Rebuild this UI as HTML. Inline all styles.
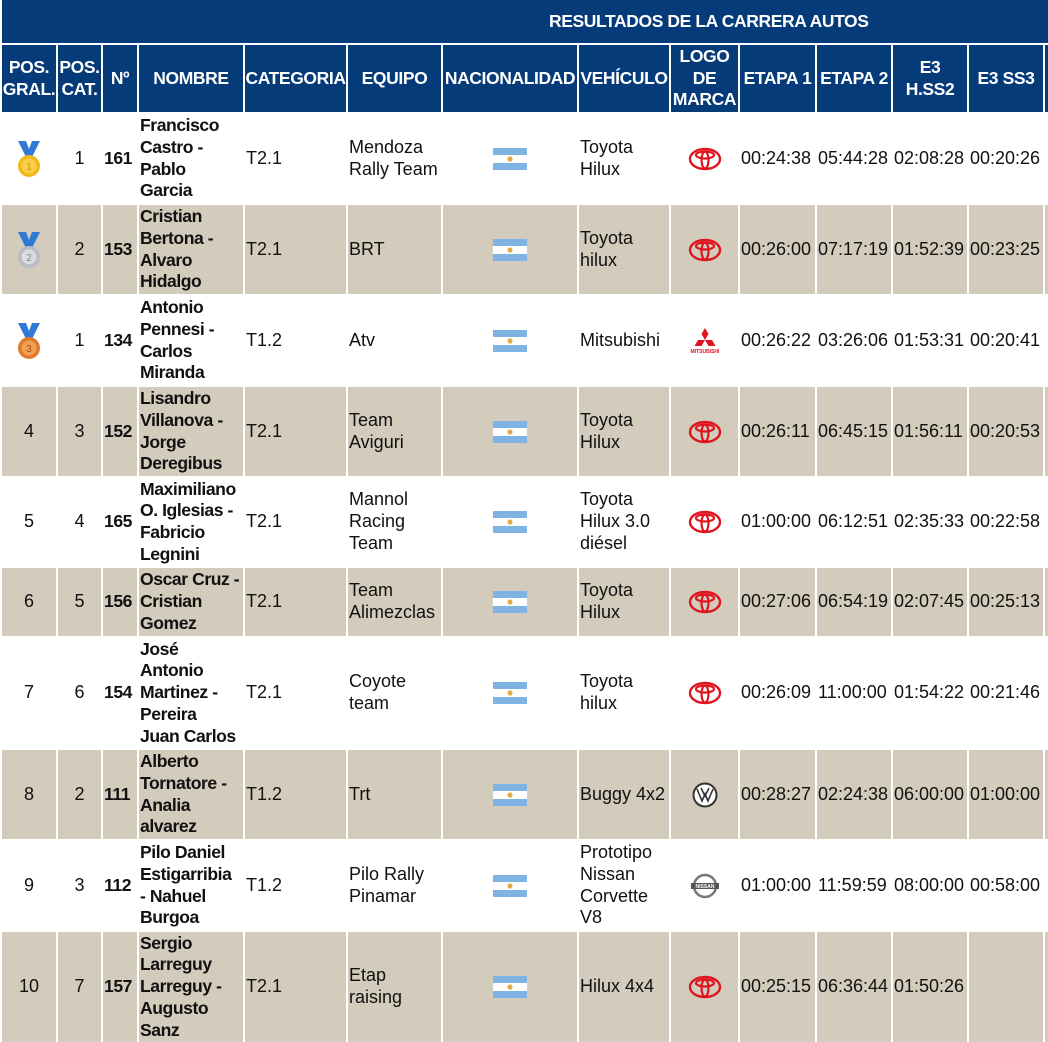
<!DOCTYPE html>
<html><head><meta charset="utf-8"><style>
html,body{margin:0;padding:0;background:#fff;width:1048px;height:1039px;overflow:hidden}
.g{position:absolute;left:2px;top:0;padding-top:2px;display:grid;grid-template-columns:54px 43px 34px 104px 101px 93px 134px 90px 67px 75px 74px 74px 74px 100px;grid-template-rows:41px 67px 89px 89px 89px 89px 88px 68px 110px 89px 89px 110px;gap:2px;font-family:"Liberation Sans",sans-serif;font-size:18px;line-height:21.7px;color:#111}
.g>div{display:flex;align-items:center;overflow:hidden;padding:0 1px;box-sizing:border-box}
.h{background:#053b78;color:#fff;font-weight:bold;font-size:17.5px;line-height:21.5px;letter-spacing:-0.4px;justify-content:center;text-align:center}
.t{grid-column:1/15;background:#053b78;margin-top:-2px}
.b{background:#d3cbbb}
.c{justify-content:center}
.n{font-weight:bold;font-size:17.6px;letter-spacing:-0.45px;white-space:nowrap}
.title{position:absolute;left:549px;top:11px;color:#fff;font-family:"Liberation Sans",sans-serif;font-weight:bold;font-size:17.5px;letter-spacing:-0.4px}
.fl{width:34px;height:22px}
</style></head><body>
<svg width="0" height="0" style="position:absolute">
<defs>
<symbol id="ar" viewBox="0 0 34 22"><rect width="34" height="22" fill="#fff"/><rect width="34" height="7" fill="#7fb3e3"/><rect y="15" width="34" height="7" fill="#7fb3e3"/><circle cx="17" cy="11" r="2.6" fill="#e2a94a"/></symbol>
<symbol id="ty" viewBox="0 0 34 24"><ellipse cx="17" cy="12" rx="15" ry="10" fill="none" stroke="#e0141e" stroke-width="2.4"/><ellipse cx="17" cy="8" rx="9" ry="3.5" fill="none" stroke="#e0141e" stroke-width="2.2"/><ellipse cx="17" cy="13" rx="3.5" ry="8.5" fill="none" stroke="#e0141e" stroke-width="2.2"/></symbol>
</defs></svg>
<div class="g">
<div class="t"></div>
<div class="h">POS. GRAL.</div><div class="h">POS. CAT.</div><div class="h">Nº</div><div class="h">NOMBRE</div><div class="h">CATEGORIA</div><div class="h">EQUIPO</div><div class="h">NACIONALIDAD</div><div class="h">VEHÍCULO</div><div class="h">LOGO DE MARCA</div><div class="h">ETAPA 1</div><div class="h">ETAPA 2</div><div class="h">E3 H.SS2</div><div class="h">E3 SS3</div><div class="h"></div>

<div class="c"><svg width="26" height="40" viewBox="0 0 26 40"><path d="M2 2h8l3 8 3-8h8l-8 16h-6z" fill="#2f7ad6"/><circle cx="13" cy="27" r="11" fill="#f5b81c"/><circle cx="13" cy="27" r="7.5" fill="#f9cf4a"/><text x="13" y="31" font-size="10" text-anchor="middle" fill="#d08a0a" font-family="Liberation Sans">1</text></svg></div><div class="c">1</div><div class="n">161</div><div class="n">Francisco<br>Castro -<br>Pablo<br>Garcia</div><div>T2.1</div><div>Mendoza Rally Team</div><div class="c"><svg class="fl"><use href="#ar"/></svg></div><div>Toyota Hilux</div><div class="c"><svg width="34" height="24"><use href="#ty"/></svg></div><div>00:24:38</div><div>05:44:28</div><div>02:08:28</div><div>00:20:26</div><div></div>

<div class="b c"><svg width="26" height="40" viewBox="0 0 26 40"><path d="M2 2h8l3 8 3-8h8l-8 16h-6z" fill="#2f7ad6"/><circle cx="13" cy="27" r="11" fill="#b8bcc4"/><circle cx="13" cy="27" r="7.5" fill="#d9dce1"/><text x="13" y="31" font-size="10" text-anchor="middle" fill="#888" font-family="Liberation Sans">2</text></svg></div><div class="b c">2</div><div class="b n">153</div><div class="b n">Cristian<br>Bertona -<br>Alvaro<br>Hidalgo</div><div class="b">T2.1</div><div class="b">BRT</div><div class="b c"><svg class="fl"><use href="#ar"/></svg></div><div class="b">Toyota hilux</div><div class="b c"><svg width="34" height="24"><use href="#ty"/></svg></div><div class="b">00:26:00</div><div class="b">07:17:19</div><div class="b">01:52:39</div><div class="b">00:23:25</div><div class="b"></div>

<div class="c"><svg width="26" height="40" viewBox="0 0 26 40"><path d="M2 2h8l3 8 3-8h8l-8 16h-6z" fill="#2f7ad6"/><circle cx="13" cy="27" r="11" fill="#e07a2c"/><circle cx="13" cy="27" r="7.5" fill="#f0a055"/><text x="13" y="31" font-size="10" text-anchor="middle" fill="#a24d10" font-family="Liberation Sans">3</text></svg></div><div class="c">1</div><div class="n">134</div><div class="n">Antonio<br>Pennesi -<br>Carlos<br>Miranda</div><div>T1.2</div><div>Atv</div><div class="c"><svg class="fl"><use href="#ar"/></svg></div><div>Mitsubishi</div><div class="c"><svg width="30" height="26" viewBox="0 0 30 26"><path d="M15 0l3.5 6-3.5 6-3.5-6z M15 12l7 0 3.5 6-7 0z M15 12l-7 0-3.5 6 7 0z" fill="#e0141e"/><text x="15" y="25" font-size="5" text-anchor="middle" fill="#e0141e" font-family="Liberation Sans" font-weight="bold">MITSUBISHI</text></svg></div><div>00:26:22</div><div>03:26:06</div><div>01:53:31</div><div>00:20:41</div><div></div>

<div class="b c">4</div><div class="b c">3</div><div class="b n">152</div><div class="b n">Lisandro<br>Villanova -<br>Jorge<br>Deregibus</div><div class="b">T2.1</div><div class="b">Team Aviguri</div><div class="b c"><svg class="fl"><use href="#ar"/></svg></div><div class="b">Toyota Hilux</div><div class="b c"><svg width="34" height="24"><use href="#ty"/></svg></div><div class="b">00:26:11</div><div class="b">06:45:15</div><div class="b">01:56:11</div><div class="b">00:20:53</div><div class="b"></div>

<div class="c">5</div><div class="c">4</div><div class="n">165</div><div class="n">Maximiliano<br>O. Iglesias -<br>Fabricio<br>Legnini</div><div>T2.1</div><div>Mannol Racing Team</div><div class="c"><svg class="fl"><use href="#ar"/></svg></div><div>Toyota Hilux 3.0 diésel</div><div class="c"><svg width="34" height="24"><use href="#ty"/></svg></div><div>01:00:00</div><div>06:12:51</div><div>02:35:33</div><div>00:22:58</div><div></div>

<div class="b c">6</div><div class="b c">5</div><div class="b n">156</div><div class="b n">Oscar Cruz -<br>Cristian<br>Gomez</div><div class="b">T2.1</div><div class="b">Team Alimezclas</div><div class="b c"><svg class="fl"><use href="#ar"/></svg></div><div class="b">Toyota Hilux</div><div class="b c"><svg width="34" height="24"><use href="#ty"/></svg></div><div class="b">00:27:06</div><div class="b">06:54:19</div><div class="b">02:07:45</div><div class="b">00:25:13</div><div class="b"></div>

<div class="c">7</div><div class="c">6</div><div class="n">154</div><div class="n">José<br>Antonio<br>Martinez -<br>Pereira<br>Juan Carlos</div><div>T2.1</div><div>Coyote team</div><div class="c"><svg class="fl"><use href="#ar"/></svg></div><div>Toyota hilux</div><div class="c"><svg width="34" height="24"><use href="#ty"/></svg></div><div>00:26:09</div><div>11:00:00</div><div>01:54:22</div><div>00:21:46</div><div></div>

<div class="b c">8</div><div class="b c">2</div><div class="b n">111</div><div class="b n">Alberto<br>Tornatore -<br>Analia<br>alvarez</div><div class="b">T1.2</div><div class="b">Trt</div><div class="b c"><svg class="fl"><use href="#ar"/></svg></div><div class="b">Buggy 4x2</div><div class="b c"><svg width="26" height="26" viewBox="0 0 26 26"><circle cx="13" cy="13" r="11.5" fill="#fff" stroke="#333" stroke-width="2"/><path d="M5 7l5 12 3-7 3 7 5-12 M9 6l4 8 4-8" fill="none" stroke="#333" stroke-width="1.6"/></svg></div><div class="b">00:28:27</div><div class="b">02:24:38</div><div class="b">06:00:00</div><div class="b">01:00:00</div><div class="b"></div>

<div class="c">9</div><div class="c">3</div><div class="n">112</div><div class="n">Pilo Daniel<br>Estigarribia<br>- Nahuel<br>Burgoa</div><div>T1.2</div><div>Pilo Rally Pinamar</div><div class="c"><svg class="fl"><use href="#ar"/></svg></div><div>Prototipo Nissan Corvette V8</div><div class="c"><svg width="30" height="26" viewBox="0 0 30 26"><circle cx="15" cy="13" r="11" fill="none" stroke="#777" stroke-width="2.5"/><rect x="1" y="10" width="28" height="6" fill="#555"/><text x="15" y="15" font-size="5" text-anchor="middle" fill="#fff" font-family="Liberation Sans" font-weight="bold">NISSAN</text></svg></div><div>01:00:00</div><div>11:59:59</div><div>08:00:00</div><div>00:58:00</div><div></div>

<div class="b c">10</div><div class="b c">7</div><div class="b n">157</div><div class="b n">Sergio<br>Larreguy<br>Larreguy -<br>Augusto<br>Sanz</div><div class="b">T2.1</div><div class="b">Etap raising</div><div class="b c"><svg class="fl"><use href="#ar"/></svg></div><div class="b">Hilux 4x4</div><div class="b c"><svg width="34" height="24"><use href="#ty"/></svg></div><div class="b">00:25:15</div><div class="b">06:36:44</div><div class="b">01:50:26</div><div class="b"></div><div class="b"></div>
</div>
<div class="title">RESULTADOS DE LA CARRERA AUTOS</div>
</body></html>
